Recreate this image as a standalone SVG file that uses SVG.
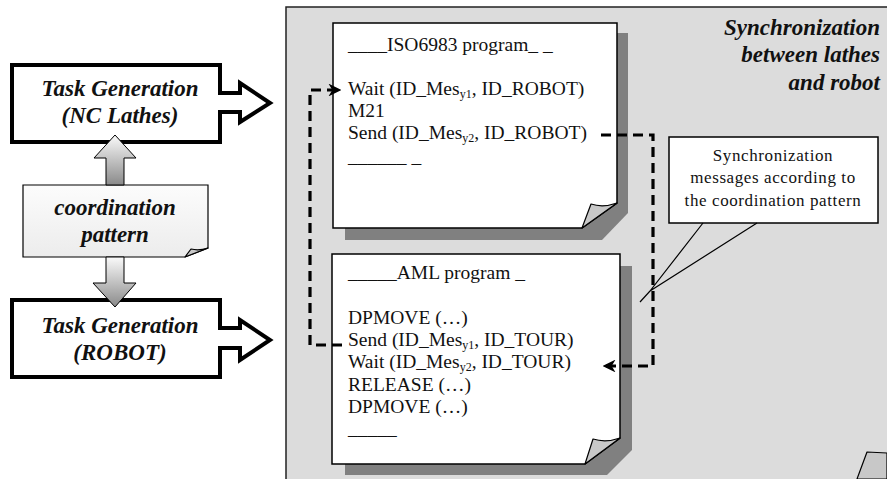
<svg xmlns="http://www.w3.org/2000/svg" width="887" height="479" viewBox="0 0 887 479">
<style>
.bi{font-family:'Liberation Serif',serif;font-weight:bold;font-style:italic;font-size:23px;fill:#111}
.tx{font-family:'Liberation Serif',serif;font-size:19.5px;fill:#111}
.cl{font-family:'Liberation Serif',serif;font-size:17px;fill:#111;letter-spacing:0.6px}
.sub{font-size:12px}
.tg{fill:#fff;stroke:#000;stroke-width:4;stroke-linejoin:miter}
.doc{fill:#fff;stroke:#000;stroke-width:1.5}
.shadow{fill:#808080}
.curl{fill:#c8c8c8;stroke:#000;stroke-width:1.2;stroke-linejoin:round}
.dash{fill:none;stroke:#000;stroke-width:3.2;stroke-dasharray:10,6}
.garrow{fill:url(#g);stroke:#000;stroke-width:1}
</style>
<defs>
<linearGradient id="g" x1="0" y1="0" x2="0" y2="1">
<stop offset="0" stop-color="#fafafa"/>
<stop offset="1" stop-color="#8a8a8a"/>
</linearGradient>
<linearGradient id="cp" x1="0" y1="0" x2="0" y2="1">
<stop offset="0" stop-color="#fcfcfc"/>
<stop offset="1" stop-color="#ececec"/>
</linearGradient>
<marker id="ah" viewBox="0 0 10 10" refX="9" refY="5" markerWidth="4" markerHeight="4" orient="auto" markerUnits="strokeWidth">
<path d="M0,0 L10,5 L0,10 L3,5 Z" fill="#000"/>
</marker>
</defs>

<g id="panel">
<rect x="286" y="7" width="620" height="490" fill="#dcdcdc" stroke="#222" stroke-width="1.5"/>
<polygon class="curl" points="857,479 867,452 887,453 887,479"/>
<text class="bi" text-anchor="end"><tspan x="880" y="35">Synchronization</tspan><tspan x="880" y="62">between lathes</tspan><tspan x="880" y="90">and robot</tspan></text>
</g>

<g id="iso-doc">
<polygon class="shadow" points="345,33 628,33 628,213 602,240 345,240"/>
<polygon class="doc" points="333,23 617,23 617,203 582,228 333,228"/>
<path class="curl" d="M582,228 L591,204 Q603,208 617,203 Z"/>
<text class="tx" x="348" y="51">____ISO6983 program_ _</text>
<text class="tx" x="348" y="95">Wait (ID_Mes<tspan class="sub" dy="3">y1</tspan><tspan dy="-3">, ID_ROBOT)</tspan></text>
<text class="tx" x="348" y="117">M21</text>
<text class="tx" x="348" y="139">Send (ID_Mes<tspan class="sub" dy="3">y2</tspan><tspan dy="-3">, ID_ROBOT)</tspan></text>
<text class="tx" x="348" y="163">______ _</text>
</g>

<g id="aml-doc">
<polygon class="shadow" points="345,266 632,266 632,450 607,475 345,475"/>
<polygon class="doc" points="332,254 620,254 620,438 585,464 332,464"/>
<path class="curl" d="M585,464 L593,439 Q606,443 620,438 Z"/>
<text class="tx" x="348" y="279">_____AML program _</text>
<text class="tx" x="348" y="324">DPMOVE (…)</text>
<text class="tx" x="348" y="346">Send (ID_Mes<tspan class="sub" dy="3">y1</tspan><tspan dy="-3">, ID_TOUR)</tspan></text>
<text class="tx" x="348" y="368">Wait (ID_Mes<tspan class="sub" dy="3">y2</tspan><tspan dy="-3">, ID_TOUR)</tspan></text>
<text class="tx" x="348" y="391">RELEASE (…)</text>
<text class="tx" x="348" y="413">DPMOVE (…)</text>
<text class="tx" x="348" y="435">_____</text>
</g>

<g id="callout">
<rect x="669" y="137" width="209" height="86" fill="#fff" stroke="#000" stroke-width="1.5"/>
<path d="M703,223 L650,291 M757,223 L650,291 L640,302" fill="none" stroke="#000" stroke-width="1.2"/>
<text class="cl" text-anchor="middle"><tspan x="773" y="161">Synchronization</tspan><tspan x="773" y="183">messages according to</tspan><tspan x="773" y="206">the coordination pattern</tspan></text>
</g>

<g id="task-nc">
<path class="tg" d="M12,65 H220 V93 H240 V83 L270,103 L240,122 V112 H220 V142 H12 Z"/>
<text class="bi" text-anchor="middle"><tspan x="120" y="96">Task Generation</tspan><tspan x="120" y="123">(NC Lathes)</tspan></text>
</g>

<g id="task-robot">
<path class="tg" d="M12,300 H220 V328 H240 V320 L270,340 L240,360 V348 H220 V377 H12 Z"/>
<text class="bi" text-anchor="middle"><tspan x="120" y="333">Task Generation</tspan><tspan x="120" y="360">(ROBOT)</tspan></text>
</g>

<g id="coordination">
<polygon points="23,185 208,185 208,248 185,257 23,257" fill="url(#cp)" stroke="#000" stroke-width="1.2"/>
<path class="curl" d="M185,257 L191,249 Q199,251 208,248 Z"/>
<text class="bi" text-anchor="middle"><tspan x="115" y="215">coordination</tspan><tspan x="115" y="242">pattern</tspan></text>
</g>

<g id="connectors">
<path class="garrow" d="M106,185 V158 H94 L115,135 L136,158 H124 V185 Z"/>
<path class="garrow" d="M106,257 V283 H93 L115,307 L136,283 H124 V257 Z"/>
<path class="dash" d="M342,345 H310 V90 H340" marker-end="url(#ah)"/>
<path class="dash" d="M601,135 H653 V366 H604" marker-end="url(#ah)"/>
</g>
</svg>
